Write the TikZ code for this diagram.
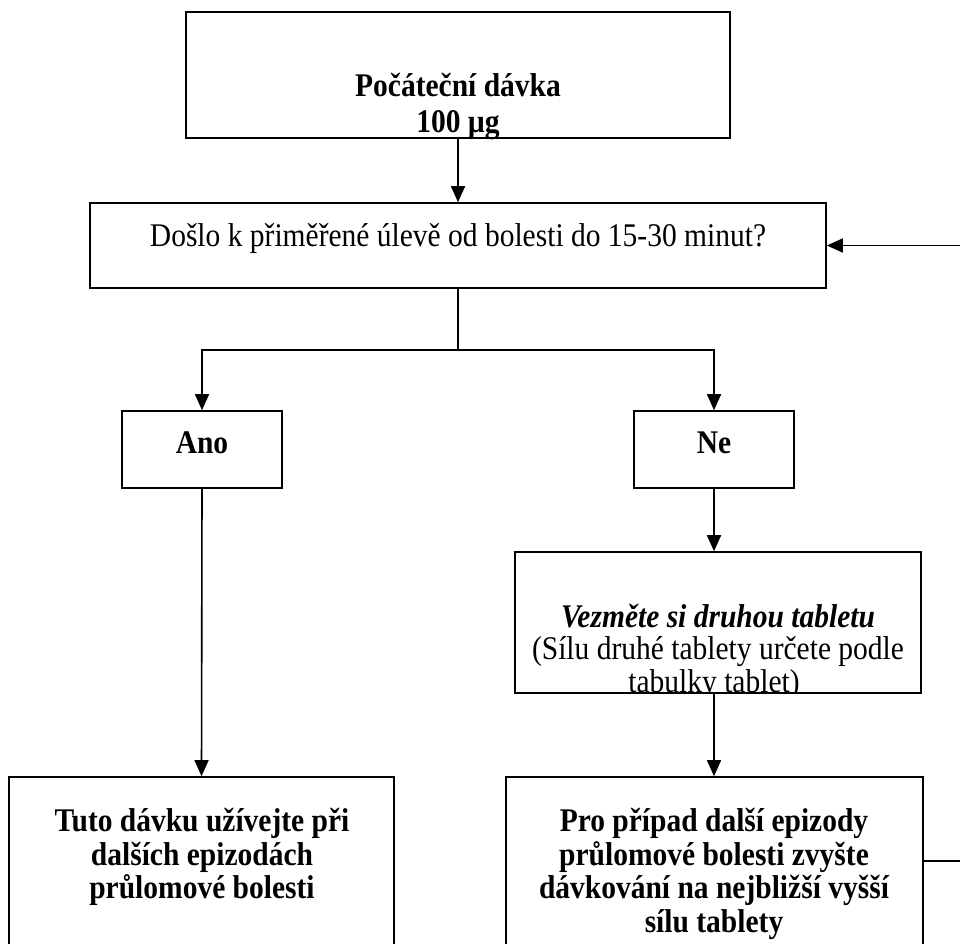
\documentclass[tikz,border=0pt]{standalone}
\usepackage{graphicx}
\usepackage{fontspec}
\setmainfont{Liberation Serif}
\usetikzlibrary{arrows.meta}
\newcommand{\tallt}[1]{\scalebox{1}[1.12]{#1}}
\tikzset{
  boxstyle/.style={draw=black, line width=1.6pt, rectangle, inner sep=0pt},
  txt/.style={anchor=base, inner sep=0pt, font=\fontsize{29.5}{34}\selectfont},
  btxt/.style={txt, font=\fontsize{29.5}{34}\selectfont\bfseries},
  conn/.style={line width=1.6pt},
  arr/.style={conn, -{Triangle[length=16pt,width=14pt]}},
}
\newcommand{\boxat}[5]{% name, x1, y1, x2, y2
  \node[boxstyle, minimum width={(#4-#2)*1pt}, minimum height={(#5-#3)*1pt}] (#1) at ({(#2+#4)/2},{(#3+#5)/2}) {};}
\begin{document}
\begin{tikzpicture}[x=1pt, y=-1pt]
\useasboundingbox (0,0) rectangle (960,943);
\fill[white] (0,0) rectangle (960,943);

\boxat{top}{186}{12}{730}{138}
\boxat{q}{90}{203}{826}{288}
\boxat{ano}{122}{411}{282}{488}
\boxat{ne}{634}{411}{794}{488}
\boxat{vez}{515}{552}{921}{693}
\boxat{tuto}{9}{777}{394}{945}
\boxat{pro}{506}{777}{923}{945}

\node[btxt] (t1) at (458,96) {\tallt{Počáteční dávka}};
\node[btxt] (t2) at (458,132) {\tallt{100 µg}};
\node[txt] (q1) at (458,246) {\tallt{Došlo k přiměřené úlevě od bolesti do 15-30 minut?}};
\node[btxt] (a1) at (202,453) {\tallt{Ano}};
\node[btxt] (n1) at (714,453) {\tallt{Ne}};
\node[txt, font=\fontsize{29.5}{34}\selectfont\bfseries\itshape] (v1) at (718,627) {\tallt{Vezměte si druhou tabletu}};
\node[txt] (v2) at (718,659) {\tallt{(Sílu druhé tablety určete podle}};
\begin{scope}
\clip (515,552) rectangle (921,693);
\node[txt] (v3) at (714,692) {\tallt{tabulky tablet)}};
\end{scope}
\node[btxt] (u1) at (202,831) {\tallt{Tuto dávku užívejte při}};
\node[btxt] (u2) at (202,865) {\tallt{dalších epizodách}};
\node[btxt] (u3) at (202,898) {\tallt{průlomové bolesti}};
\node[btxt] (p1) at (714,831) {\tallt{Pro případ další epizody}};
\node[btxt] (p2) at (714,865) {\tallt{průlomové bolesti zvyšte}};
\node[btxt] (p3) at (714,898) {\tallt{dávkování na nejbližší vyšší}};
\node[btxt] (p4) at (714,932) {\tallt{sílu tablety}};

\coordinate (split) at (458,350);
\coordinate (loop) at (966,0);

\draw[arr] (top.south) -- (q.north);
\draw[conn] (q.south) -- (split);
\draw[arr] (split) -| (ano.north);
\draw[arr] (split) -| (ne.north);
\draw[arr] (ano.south) -- (tuto.north);
\draw[arr] (ne.south) -- (ne.south |- vez.north);
\draw[arr] (ne.south |- vez.south) -- (ne.south |- pro.north);
\draw[arr] (pro.east) -- (pro.east -| loop) -- (loop |- q.east) -- (q.east);
\end{tikzpicture}
\end{document}
